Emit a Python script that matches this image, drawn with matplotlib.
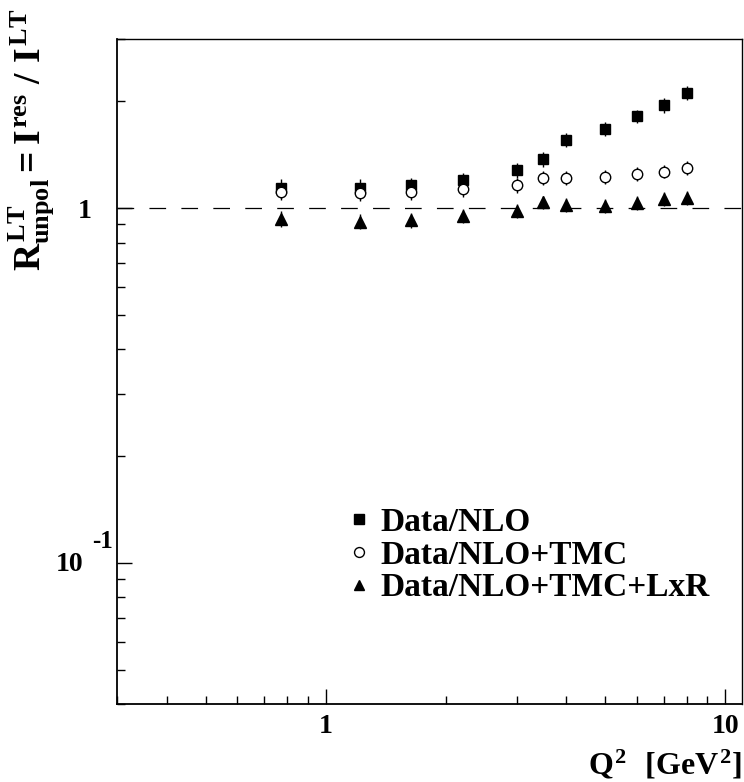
import numpy as np
import matplotlib
matplotlib.use('Agg')
import matplotlib.pyplot as plt

plt.rcParams['font.family'] = ['Liberation Serif', 'DejaVu Serif']
plt.rcParams['font.weight'] = 'bold'
plt.rcParams['mathtext.fontset'] = 'custom'
plt.rcParams['mathtext.rm'] = 'Liberation Serif:bold'
plt.rcParams['mathtext.it'] = 'Liberation Serif:bold'
plt.rcParams['mathtext.bf'] = 'Liberation Serif:bold'
plt.rcParams['lines.scale_dashes'] = False

# Q^2 bins [GeV^2]
q2 = [0.77, 1.22, 1.63, 2.2, 3.0, 3.5, 4.0, 5.0, 6.0, 7.0, 8.0]

# ratios of the measured integral to the leading-twist one
r_nlo = [1.14, 1.14, 1.16, 1.20, 1.28, 1.375, 1.555, 1.675, 1.815, 1.95, 2.115]
e_nlo = [0.07, 0.065, 0.06, 0.06, 0.06, 0.065, 0.07, 0.075, 0.08, 0.09, 0.10]

r_tmc = [1.114, 1.102, 1.110, 1.134, 1.161, 1.215, 1.215, 1.226, 1.249, 1.268, 1.302]
e_tmc = [0.06, 0.055, 0.055, 0.055, 0.055, 0.055, 0.055, 0.055, 0.055, 0.055, 0.06]

r_lxr = [0.933, 0.917, 0.927, 0.951, 0.981, 1.040, 1.022, 1.015, 1.035, 1.062, 1.069]
e_lxr = [0.05, 0.045, 0.045, 0.045, 0.045, 0.045, 0.045, 0.045, 0.045, 0.05, 0.05]

labels = ['Data/NLO', 'Data/NLO+TMC', 'Data/NLO+TMC+LxR']

fig = plt.figure(figsize=(7.44, 7.82), dpi=100)
ax = fig.add_axes([117/744, 1 - 704/782, 625/744, 665/782])
ax.set_xscale('log')
ax.set_yscale('log')
ax.set_xlim(0.3, 11)
ax.set_ylim(0.04, 3)

ax.axhline(1.0, color='black', lw=0.9, linestyle=(0, (12, 11)), zorder=1)

# error bars first, markers on top
for r, e in [(r_nlo, e_nlo), (r_tmc, e_tmc), (r_lxr, e_lxr)]:
    ax.errorbar(q2, r, yerr=e, fmt='none', ecolor='black', elinewidth=1.0, capsize=0, zorder=2)

h1, = ax.plot(q2, r_nlo, 's', color='black', ms=7.5, label=labels[0], zorder=3)
h2, = ax.plot(q2, r_tmc, 'o', mfc='white', mec='black', mew=1.0, ms=7.5, label=labels[1], zorder=4)
h3, = ax.plot(q2, r_lxr, '^', color='black', ms=8, label=labels[2], zorder=5)

leg = ax.legend(handles=[h1, h2, h3], loc='upper left',
                bbox_to_anchor=((351 - 117) / 625, (704 - 507) / 665),
                frameon=False, fontsize=24, handlelength=0.5, handletextpad=0.38,
                labelspacing=0.05, borderpad=0, borderaxespad=0, markerscale=0.95)

# ticks
for s in ['top', 'right']:
    ax.spines[s].set_linewidth(1.0)
for s in ['left', 'bottom']:
    ax.spines[s].set_linewidth(1.3)
ax.tick_params(which='both', direction='in', top=False, right=False, color='black')
ax.tick_params(which='major', length=11, width=1.0)
ax.tick_params(which='minor', length=6, width=1.0)
ax.tick_params(axis='x', which='major', pad=7, labelsize=20)
ax.tick_params(axis='y', which='major', pad=18, labelsize=20)

ax.set_xticks([1, 10])
ax.set_xticklabels(['1', '10'])
ax.set_yticks([0.1, 1])
ax.set_yticklabels(['', '1'])
for lab in ax.get_xticklabels() + ax.get_yticklabels():
    lab.set_fontweight('bold')

# ROOT-style exponent label for 0.1
ax.annotate('10', xy=(0, 0.1), xycoords=('axes fraction', 'data'),
            xytext=(-34, -2), textcoords='offset pixels', ha='right', va='center',
            fontsize=20, fontweight='bold')
ax.annotate('-1', xy=(0, 0.1), xycoords=('axes fraction', 'data'),
            xytext=(-4, 21), textcoords='offset pixels', ha='right', va='center',
            fontsize=18, fontweight='bold')

fig.text(742/744, 1 - 781/782, r'$Q^2\ \ [GeV^2]$', ha='right', va='bottom', fontsize=23)
fig.text(31/744, 1 - 9/782, r'$R^{LT}_{unpol} = I^{res}\ /\ I^{LT}$', rotation=90,
         ha='center', va='top', fontsize=27)

fig.savefig('out.png', dpi=100)
